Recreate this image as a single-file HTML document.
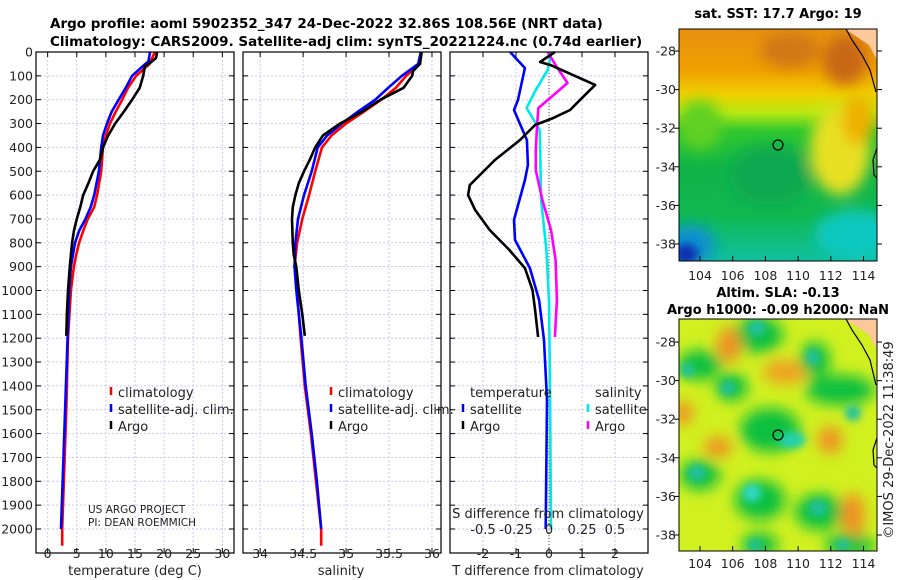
<!DOCTYPE html>
<html><head><meta charset="utf-8"><style>
html,body{margin:0;padding:0;background:#fff;}
svg{display:block;font-family:"DejaVu Sans","Liberation Sans",sans-serif;}
</style></head><body>
<svg id="c" width="900" height="580" xmlns="http://www.w3.org/2000/svg">
<defs>
<filter id="bl" x="-60%" y="-60%" width="220%" height="220%"><feGaussianBlur stdDeviation="7"/></filter>
<filter id="bl2" x="-60%" y="-60%" width="220%" height="220%"><feGaussianBlur stdDeviation="4"/></filter>
<clipPath id="cp1"><rect x="679" y="29" width="198" height="232"/></clipPath>
<clipPath id="cp2"><rect x="679" y="319" width="198" height="232"/></clipPath>
<linearGradient id="sstg" x1="0" y1="0" x2="0" y2="1">
<stop offset="0" stop-color="#e89010"/><stop offset="0.18" stop-color="#f0a000"/><stop offset="0.28" stop-color="#f0d000"/><stop offset="0.36" stop-color="#b8e810"/><stop offset="0.44" stop-color="#30c830"/><stop offset="0.6" stop-color="#10b448"/><stop offset="0.8" stop-color="#10b850"/><stop offset="1" stop-color="#10c0a0"/>
</linearGradient>
</defs>
<g font-weight="bold" font-size="13.5" fill="#000">
<text x="50" y="28">Argo profile: aoml 5902352_347 24-Dec-2022 32.86S 108.56E (NRT data)</text>
<text x="50" y="46">Climatology: CARS2009. Satellite-adj clim: synTS_20221224.nc (0.74d earlier)</text>
</g>
<g id="axes"></g>

<g>
<g clip-path="url(#cp1)">
<rect x="679" y="29" width="198" height="232" fill="url(#sstg)"/>
<g filter="url(#bl)">
<ellipse cx="790" cy="50" rx="30" ry="18" fill="#d07818"/>
<ellipse cx="845" cy="60" rx="22" ry="25" fill="#c86818"/>
<ellipse cx="840" cy="150" rx="30" ry="45" fill="#e8e020"/>
<ellipse cx="858" cy="120" rx="16" ry="25" fill="#f0b000"/>
<ellipse cx="700" cy="125" rx="22" ry="25" fill="#60d020"/>
<ellipse cx="855" cy="235" rx="40" ry="25" fill="#10c8c0"/>
<ellipse cx="690" cy="245" rx="25" ry="20" fill="#1090d0"/>
<ellipse cx="770" cy="175" rx="40" ry="30" fill="#10a850"/>
</g>
<ellipse cx="686" cy="254" rx="12" ry="10" fill="#1030b0" filter="url(#bl2)"/>
<polygon points="845,29 877,29 877,60 869,45" fill="#fdc89a"/>
<polyline points="846,29 852,40 862,55 870,70 876,92" fill="none" stroke="#000" stroke-width="1.2"/>
<polyline points="877,148 873,160 874,175 877,178" fill="none" stroke="#000" stroke-width="1.2"/>
</g>
<rect x="679" y="29" width="198" height="232" fill="none" stroke="#000"/>
<circle cx="778" cy="145" r="5" fill="none" stroke="#000" stroke-width="1.2"/>
<text x="778" y="18" text-anchor="middle" font-size="13" font-weight="bold">sat. SST: 17.7 Argo: 19</text>
</g>

<g>
<g clip-path="url(#cp2)">
<rect x="679" y="319" width="198" height="232" fill="#d0f020"/>
<g filter="url(#bl)">
<ellipse cx="770" cy="430" rx="30" ry="22" fill="#10c040"/>
<ellipse cx="840" cy="390" rx="35" ry="15" fill="#10c040"/>
<ellipse cx="700" cy="365" rx="22" ry="15" fill="#10c040"/>
<ellipse cx="700" cy="475" rx="20" ry="15" fill="#10c040"/>
<ellipse cx="760" cy="500" rx="25" ry="20" fill="#10c040"/>
<ellipse cx="820" cy="512" rx="25" ry="18" fill="#10c040"/>
<ellipse cx="758" cy="335" rx="25" ry="18" fill="#10c040"/>
<ellipse cx="815" cy="360" rx="15" ry="18" fill="#10c040"/>
<ellipse cx="732" cy="387" rx="16" ry="14" fill="#10c040"/>
<ellipse cx="760" cy="545" rx="18" ry="12" fill="#10c040"/>
<ellipse cx="850" cy="545" rx="25" ry="12" fill="#10c040"/>
<ellipse cx="729" cy="345" rx="12" ry="18" fill="#f09020"/>
<ellipse cx="785" cy="372" rx="22" ry="12" fill="#f0a020"/>
<ellipse cx="683" cy="413" rx="10" ry="12" fill="#f09020"/>
<ellipse cx="718" cy="447" rx="14" ry="10" fill="#f09020"/>
<ellipse cx="830" cy="440" rx="12" ry="14" fill="#f09020"/>
<ellipse cx="853" cy="515" rx="12" ry="22" fill="#f09020"/>
</g>
<g filter="url(#bl2)">
<ellipse cx="792" cy="440" rx="14" ry="8" fill="#20d0b0"/>
<ellipse cx="752" cy="493" rx="9" ry="9" fill="#30d8c8"/>
<ellipse cx="697" cy="473" rx="9" ry="8" fill="#20c0a0"/>
<ellipse cx="818" cy="508" rx="9" ry="8" fill="#20c0a0"/>
<ellipse cx="728" cy="388" rx="7" ry="7" fill="#20c0a0"/>
<ellipse cx="853" cy="413" rx="8" ry="8" fill="#20c0a0"/>
<ellipse cx="813" cy="357" rx="7" ry="8" fill="#20c0a0"/>
<ellipse cx="687" cy="370" rx="7" ry="7" fill="#20c0a0"/>
<ellipse cx="755" cy="545" rx="7" ry="6" fill="#20c0a0"/>
<ellipse cx="843" cy="545" rx="7" ry="6" fill="#20c0a0"/>
<ellipse cx="757" cy="328" rx="9" ry="8" fill="#20c0a0"/>
</g>
<polygon points="845,319 877,319 877,350 869,335" fill="#fdc89a"/>
<polyline points="846,319 852,330 862,345 870,360 876,385" fill="none" stroke="#000" stroke-width="1.2"/>
<polyline points="877,438 873,450 874,465 877,468" fill="none" stroke="#000" stroke-width="1.2"/>
</g>
<rect x="679" y="319" width="198" height="232" fill="none" stroke="#000"/>
<circle cx="778" cy="435" r="5" fill="none" stroke="#000" stroke-width="1.2"/>
<text x="778" y="297" text-anchor="middle" font-size="13" font-weight="bold">Altim. SLA: -0.13</text>
<text x="778" y="314" text-anchor="middle" font-size="13" font-weight="bold">Argo h1000: -0.09 h2000: NaN</text>
</g>
<g id="mapaxes"></g>
<text transform="translate(893,440) rotate(-90)" text-anchor="middle" font-size="13" fill="#222">©IMOS 29-Dec-2022 11:38:49</text>
</svg>
<script>
// ---- data ----
const depthTicks=[0,100,200,300,400,500,600,700,800,900,1000,1100,1200,1300,1400,1500,1600,1700,1800,1900,2000];
const tTicks=[0,5,10,15,20,25,30];
const sTicks=[34,34.5,35,35.5,36];
const dTTicks=[-2,-1,0,1,2];
const dSTicks=[-0.5,-0.25,0,0.25,0.5];
const dSTickLabels=["-0.5","-0.25","0","0.25","0.5"];
const argoTdep=[0,25,40,60,100,150,200,250,300,350,400,450,500,550,600,650,700,750,800,850,900,1000,1100,1190];
const argoT=[18.8,18.6,17.9,16.7,16.4,15.8,14.5,13.1,11.6,10.4,9.5,9.0,7.8,7.0,6.1,5.6,5.0,4.5,4.2,4.0,3.8,3.5,3.3,3.2];
const climTdep=[0,50,100,150,200,250,300,350,400,500,600,650,700,750,800,850,900,1000,1200,1500,2000,2070];
const climT=[18.4,17.5,15.2,13.8,12.8,11.7,10.7,10.0,9.5,9.2,8.5,8.0,6.9,6.1,5.4,4.9,4.5,4.0,3.5,3.2,2.5,2.5];
const satTdep=[0,40,60,100,150,200,250,300,350,400,500,600,650,700,750,800,900,1000,1500,2000];
const satT=[17.6,17.3,16.3,14.5,13.4,12.2,11.0,10.2,9.5,9.2,8.8,8.0,7.4,6.5,5.4,4.7,4.0,3.7,3.0,2.3];
const argoSdep=[0,50,80,100,150,200,250,300,350,400,450,500,550,600,650,700,800,850,900,1000,1100,1190];
const argoS=[35.88,35.86,35.78,35.77,35.67,35.40,35.19,34.93,34.73,34.64,34.58,34.51,34.45,34.41,34.38,34.37,34.38,34.39,34.42,34.45,34.49,34.52];
const climSdep=[0,50,100,150,200,250,300,350,400,500,600,700,800,900,1000,1200,1400,1600,1800,2000,2070];
const climS=[35.87,35.86,35.70,35.58,35.41,35.21,35.0,34.83,34.72,34.64,34.57,34.49,34.43,34.40,34.43,34.47,34.52,34.59,34.65,34.71,34.71];
const satSdep=[0,50,100,150,200,250,300,350,400,500,600,700,800,900,1000,1200,1400,1600,1800,2000];
const satS=[35.87,35.84,35.65,35.49,35.34,35.14,34.95,34.78,34.67,34.60,34.51,34.44,34.41,34.40,34.42,34.48,34.53,34.60,34.66,34.71];
const dTargoDep=[0,42,55,138,201,243,277,306,369,453,558,600,662,746,830,906,998,1082,1195];
const dTargo=[0.18,-0.27,0.05,1.4,0.94,0.64,0.12,-0.42,-0.88,-1.64,-2.4,-2.45,-2.24,-1.8,-1.2,-0.73,-0.5,-0.42,-0.33];
const dTsatDep=[0,67,201,243,369,474,537,704,788,906,1040,1208,1459,2000];
const dTsat=[-1.18,-0.73,-0.94,-1.06,-0.67,-0.64,-0.73,-1.06,-1.03,-0.58,-0.3,-0.15,-0.06,-0.1];
const dSargoDep=[0,55,130,159,235,306,411,495,621,746,872,1040,1195];
const dSargo=[-0.01,0.05,0.14,0.08,-0.08,-0.09,-0.1,-0.1,-0.05,0.015,0.05,0.06,0.045];
const dSsatDep=[0,75,159,235,327,621,830,1040,1459,2000];
const dSsat=[0.02,-0.01,-0.1,-0.17,-0.07,-0.06,-0.02,0.0,0.008,0.015];
const lonTicks=[104,106,108,110,112,114];
const latTicks=[-28,-30,-32,-34,-36,-38];

const NS="http://www.w3.org/2000/svg";
const ax=document.getElementById('axes');
function mk(tag,attrs,parent){const e=document.createElementNS(NS,tag);for(const k in attrs)e.setAttribute(k,attrs[k]);(parent||ax).appendChild(e);return e;}
const Y0=52, PY=0.2385, YB=553;
const yS=d=>Y0+d*PY;
const xT=v=>36+(v+2)/34*198;
const xS=v=>243+(v-33.8)/2.305*198;
const xD=v=>549+v*33;
const xDS=v=>549+v*132;
const panels=[
 {name:'temperature',x0:36,x1:234,ticks:tTicks.map(xT)},
 {name:'salinity',x0:243,x1:441,ticks:sTicks.map(xS)},
 {name:'difference',x0:450,x1:648,ticks:dTTicks.map(xD)}
];
panels.forEach(p=>{
 const g=mk('g',{});
 
 
 p.ticks.forEach(x=>{const l=mk('line',{x1:x,x2:x,y1:Y0,y2:YB,stroke:'#c9c9ee','stroke-dasharray':'2,2'},g);
  
  
  mk('line',{x1:x,x2:x,y1:YB,y2:YB-5,stroke:'#000'},g);mk('line',{x1:x,x2:x,y1:Y0,y2:Y0+5,stroke:'#000'},g);});
 depthTicks.forEach(d=>{const y=yS(d);const l=mk('line',{x1:p.x0,x2:p.x1,y1:y,y2:y,stroke:'#c9c9ee','stroke-dasharray':'2,2'},g);
  
  
  mk('line',{x1:p.x0,x2:p.x0+5,y1:y,y2:y,stroke:'#000'},g);mk('line',{x1:p.x1-5,x2:p.x1,y1:y,y2:y,stroke:'#000'},g);});
});
{const l=mk('line',{x1:xD(0),x2:xD(0),y1:Y0,y2:YB,stroke:'#554','stroke-dasharray':'1,2'});
 
 }
function line(dep,vals,fx,color,name){
 const pts=dep.map((d,i)=>fx(vals[i]).toFixed(1)+','+yS(d).toFixed(1)).join(' ');
 const e=mk('polyline',{points:pts,fill:'none',stroke:color,'stroke-width':2.6,'stroke-linejoin':'round'});
 
 
}
line(climTdep,climT,xT,'#ff0000','temperature-climatology-line');
line(satTdep,satT,xT,'#0000ff','temperature-satellite-line');
line(argoTdep,argoT,xT,'#000','temperature-argo-line');
line(climSdep,climS,xS,'#ff0000','salinity-climatology-line');
line(satSdep,satS,xS,'#0000ff','salinity-satellite-line');
line(argoSdep,argoS,xS,'#000','salinity-argo-line');
line(dSsatDep,dSsat,xDS,'#00e8e8','s-diff-satellite-line');
line(dTsatDep,dTsat,xD,'#0000ff','t-diff-satellite-line');
line(dSargoDep,dSargo,xDS,'#ff00ff','s-diff-argo-line');
line(dTargoDep,dTargo,xD,'#000','t-diff-argo-line');
panels.forEach(p=>{const r=mk('rect',{x:p.x0,y:Y0,width:p.x1-p.x0,height:YB-Y0,fill:'none',stroke:'#000','stroke-width':1.2});
 
 });
function txt(x,y,s,name,opt){const t=mk('text',Object.assign({x:x,y:y,'font-size':12.5,fill:'#222'},opt||{}));t.textContent=s;
 
 return t;}
depthTicks.forEach(d=>txt(33,yS(d)+4.5,String(d),'depth-tick-label',{'text-anchor':'end'}));
tTicks.forEach(v=>txt(xT(v),558,String(v),'temperature-tick-label',{'text-anchor':'middle'}));
sTicks.forEach(v=>txt(xS(v),558,String(v),'salinity-tick-label',{'text-anchor':'middle'}));
dTTicks.forEach(v=>txt(xD(v),558,String(v),'t-diff-tick-label',{'text-anchor':'middle'}));
dSTicks.forEach((v,i)=>txt(xDS(v),534,dSTickLabels[i],'s-diff-tick-label',{'text-anchor':'middle','font-size':13}));
txt(135,575,'temperature (deg C)','temperature-axis-title',{'text-anchor':'middle','font-size':13});
txt(341,575,'salinity','salinity-axis-title',{'text-anchor':'middle','font-size':13});
txt(548,575,'T difference from climatology','t-diff-axis-title',{'text-anchor':'middle','font-size':13});
txt(548,518,'S difference from climatology','s-diff-axis-title',{'text-anchor':'middle','font-size':13});
txt(88,513,'US ARGO PROJECT','project-label',{'font-size':10.5});
txt(88,526,'PI: DEAN ROEMMICH','pi-label',{'font-size':10.5});
function leg(x,y,color,label,name){const l=mk('line',{x1:x,x2:x,y1:y-10,y2:y-2,stroke:color,'stroke-width':2.5});
 
 
 txt(x+7,y,label,name,{'font-size':13});}
leg(111,397,'#ff0000','climatology','legend-climatology');
leg(111,414,'#0000ff','satellite-adj. clim.','legend-satellite');
leg(111,431,'#000','Argo','legend-argo');
leg(331,397,'#ff0000','climatology','legend-s-climatology');
leg(331,414,'#0000ff','satellite-adj. clim.','legend-s-satellite');
leg(331,431,'#000','Argo','legend-s-argo');
txt(470,397,'temperature','legend-temperature-heading',{'font-size':13});
leg(463,414,'#0000ff','satellite','legend-t-satellite');
leg(463,431,'#000','Argo','legend-t-argo');
txt(595,397,'salinity','legend-salinity-heading',{'font-size':13});
leg(588,414,'#00e8e8','satellite','legend-s-diff-satellite');
leg(588,431,'#ff00ff','Argo','legend-s-diff-argo');
// map axes
const ma=document.getElementById('mapaxes');
const lonX=v=>700+(v-104)*16.35;
const maps=[{top:29,latY:v=>51+(-28-v)*19.3,labY:280},{top:319,latY:v=>342+(-28-v)*19.3,labY:568}];
maps.forEach(m=>{
 lonTicks.forEach(v=>{const x=lonX(v);mk('line',{x1:x,x2:x,y1:m.top+232,y2:m.top+227,stroke:'#000'},ma);
  const t=mk('text',{x:x,y:m.labY,'text-anchor':'middle','font-size':12.5,fill:'#222'},ma);t.textContent=v;
  
  });
 latTicks.forEach(v=>{const y=m.latY(v);mk('line',{x1:877,x2:882,y1:y,y2:y,stroke:'#000'},ma);mk('line',{x1:674,x2:679,y1:y,y2:y,stroke:'#000'},ma);
  const t=mk('text',{x:676,y:y+4.5,'text-anchor':'end','font-size':12.5,fill:'#222'},ma);t.textContent=v;
  
  });
});
</script>
</body></html>
